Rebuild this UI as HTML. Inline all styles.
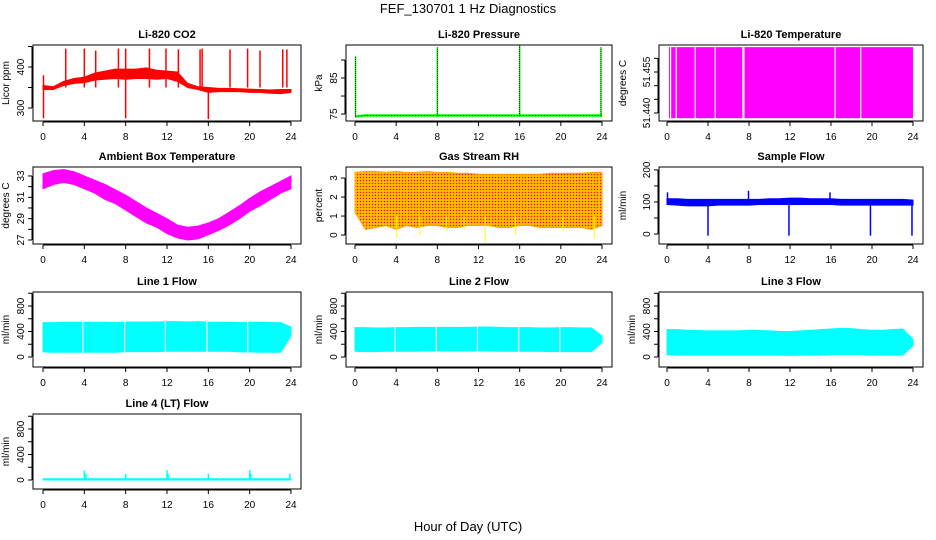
<!DOCTYPE html>
<html><head><meta charset="utf-8">
<style>
html,body{margin:0;padding:0;background:#fff;}
svg{display:block;font-family:"Liberation Sans",sans-serif;}
</style></head>
<body>
<svg id="chart" width="936" height="540" viewBox="0 0 936 540" xmlns="http://www.w3.org/2000/svg">
<text x="468" y="13" text-anchor="middle" font-size="13">FEF_130701  1 Hz Diagnostics</text>
<text x="468" y="531" text-anchor="middle" font-size="13">Hour of Day (UTC)</text>
<defs>
<pattern id="rhpat" width="3" height="3" patternUnits="userSpaceOnUse">
<rect width="3" height="3" fill="#ffa500"/><rect x="0" y="0" width="1" height="1" fill="#ff0000"/><rect x="1.5" y="1.5" width="1" height="1" fill="#ffff00"/>
</pattern>
</defs>
</svg>
<script>
// ---- data (hour of day) ----
const hours = [0,1,2,3,4,5,6,7,8,9,10,11,12,13,14,15,16,17,18,19,20,21,22,23,24];
const co2Hi = [355,352,365,372,375,385,390,395,395,395,398,392,390,388,360,352,350,348,348,347,346,345,344,345,345];
const co2Lo = [345,345,355,360,362,368,370,372,370,372,372,370,372,365,350,345,338,340,340,340,338,338,336,335,338];
const co2SpikeT = [0.05,0.05,2.2,4.0,5.1,7.3,8.0,8.0,10.3,11.9,13.1,15.2,15.4,16.0,18.1,19.8,21.0,23.2,23.6];
const co2SpikeV = [380,275,445,445,440,445,275,445,445,445,443,443,445,273,443,445,440,443,443];
const presBase = [74.3,74.6,74.6,74.6,74.6,74.6,74.6,74.6,74.6,74.6,74.6,74.6,74.6,74.6,74.6,74.6,74.6,74.6,74.6,74.6,74.6,74.6,74.6,74.6,74.6];
const presSpikeT = [0.05,8.0,16.0,23.9];
const presSpikeV = [91,93.5,94,93.5];
const tempLo = 51.4381, tempHi = 51.4641;
const tempGapT = [0.35,0.9,2.75,4.7,7.4,7.5,16.4,18.9];
const ambHi = [33.2,33.5,33.6,33.4,33.0,32.6,32.2,31.7,31.2,30.6,30.0,29.5,29.0,28.4,28.2,28.3,28.6,29.0,29.6,30.2,30.9,31.5,32.0,32.5,33.0];
const ambLo = [31.8,32.2,32.4,32.2,31.8,31.4,30.8,30.4,29.8,29.2,28.6,28.2,27.6,27.2,27.0,27.1,27.5,27.9,28.4,29.0,29.7,30.2,30.8,31.4,31.8];
const rhHi = [3.3,3.35,3.35,3.3,3.35,3.3,3.3,3.35,3.3,3.3,3.25,3.25,3.2,3.2,3.2,3.2,3.2,3.2,3.2,3.25,3.25,3.25,3.25,3.3,3.3];
const rhLo = [1.2,0.3,0.4,0.5,0.3,0.5,0.4,0.5,0.5,0.4,0.4,0.5,0.5,0.5,0.4,0.4,0.5,0.5,0.4,0.4,0.4,0.4,0.4,0.3,0.5];
const rhSpikeT = [4.05,6.3,12.65,15.6,23.25,8.9,10.6,20.2];
const rhSpikeV = [-0.15,0.0,-0.35,0.0,-0.2,0.2,0.25,0.2];
const sfHi = [110,110,108,108,108,108,108,108,108,108,110,110,112,112,110,110,110,108,108,108,108,108,108,108,106];
const sfLo = [92,90,88,88,88,90,90,90,90,92,92,92,92,92,92,92,92,90,90,90,90,90,90,90,90];
const sfSpikeT = [0.05,4.0,7.95,11.9,15.9,19.85,23.9];
const sfSpikeV = [130,-5,135,-5,130,-5,-5];
const l1Hi = [540,540,545,545,545,545,545,540,550,550,550,550,555,555,550,555,545,545,545,540,545,545,540,540,470];
const l1Lo = [80,75,75,75,75,75,75,75,85,85,85,85,90,90,90,90,90,90,90,80,80,75,75,75,330];
const l1GapT = [3.85,7.9,11.85,15.85,19.8];
const l2Hi = [460,460,455,455,460,460,465,465,465,465,465,465,470,470,465,460,460,460,455,455,460,460,455,455,330];
const l2Lo = [90,85,85,90,90,90,90,95,95,95,95,95,95,95,90,90,90,90,90,85,85,85,85,85,230];
const l2GapT = [3.9,7.9,11.9,15.9,19.9];
const l3Hi = [430,430,420,415,410,410,410,410,420,415,410,400,400,410,420,430,440,450,445,430,420,420,430,440,280];
const l3Lo = [40,30,30,30,30,30,30,30,30,30,30,30,25,30,30,30,40,40,40,40,30,30,30,30,180];
const l4Hi = [20,20,20,20,20,20,20,20,20,20,20,20,20,20,20,20,20,20,20,20,20,20,20,20,20];
const l4SpikeT = [4.0,4.15,8.0,12.0,12.1,16.0,20.0,20.1,23.9];
const l4SpikeV = [150,100,100,155,100,100,155,100,100];

// ---- layout ----
const colX = [[33,301,43,291],[346,612,355,602],[659,923,667,913]];
const rowY = [[45,121],[167,244],[292,367],[414,489]];
const xTicks = [0,4,8,12,16,20,24];
const NS = 'http://www.w3.org/2000/svg';
const svg = document.getElementById('chart');

function mk(tag, attrs, parent){
  const el = document.createElementNS(NS, tag);
  for (const k in attrs) el.setAttribute(k, attrs[k]);
  (parent||svg).appendChild(el);
  return el;
}

function panel(cfg){
  const [bl,br,x0,x24] = colX[cfg.col];
  const [bt,bb] = rowY[cfg.row];
  const g = mk('g', {});
  
  
  const xs = h => x0 + (x24-x0)*h/24;
  const ys = v => bb - (bb-bt)*(v-cfg.d0)/(cfg.d1-cfg.d0);
  const plot = mk('g', {}, g);
  
  
  cfg.draw(plot, xs, ys);
  // box
  const box = mk('rect', {x:bl, y:bt, width:br-bl, height:bb-bt, fill:'none', stroke:'#000', 'stroke-width':1}, g);
  
  
  // title
  const t = mk('text', {x:(bl+br)/2, y:bt-7, 'text-anchor':'middle', 'font-size':11, 'font-weight':'bold'}, g);
  
  
  t.textContent = cfg.title;
  // x axis
  const xa = mk('g', {}, g);
  
  
  mk('line', {x1:xs(0), x2:xs(24), y1:bb+1, y2:bb+1, stroke:'#000'}, xa);
  xTicks.forEach(h=>{
    mk('line', {x1:xs(h), x2:xs(h), y1:bb+1, y2:bb+5, stroke:'#000'}, xa);
    const tl = mk('text', {x:xs(h), y:bb+19, 'text-anchor':'middle', 'font-size':10}, xa);
    
    
    tl.textContent = h;
  });
  // y axis
  const ya = mk('g', {}, g);
  
  
  const tk = cfg.yticks;
  mk('line', {x1:bl-1, x2:bl-1, y1:ys(tk[0]), y2:ys(tk[tk.length-1]), stroke:'#000'}, ya);
  tk.forEach((v,i)=>{
    mk('line', {x1:bl-1, x2:bl-5, y1:ys(v), y2:ys(v), stroke:'#000'}, ya);
    const lab = cfg.ylabels[i];
    if (lab !== '') {
      const tl = mk('text', {x:0, y:0, 'text-anchor':'middle', 'font-size':10, transform:`translate(${bl-9},${ys(v)}) rotate(-90)`}, ya);
      
      
      tl.textContent = lab;
    }
  });
  const yt = mk('text', {x:0, y:0, 'text-anchor':'middle', 'font-size':10, transform:`translate(${bl-cfg.yoff},${(bt+bb)/2}) rotate(-90)`}, g);
  
  
  yt.textContent = cfg.ylab;
}

function band(p, xs, ys, hi, lo, fill){
  let pts = hours.map((h,i)=>xs(h)+','+ys(hi[i]));
  for (let i=hours.length-1;i>=0;i--) pts.push(xs(hours[i])+','+ys(lo[i]));
  const el = mk('polygon', {points:pts.join(' '), fill:fill, stroke:fill === 'url(#rhpat)' ? '#ffa500' : fill, 'stroke-width':1}, p);
  
  
  return el;
}
function spikes(p, xs, ys, T, V, base, color, w){
  T.forEach((t,i)=>{
    const b = Array.isArray(base) ? base[Math.round(t)] : base;
    const el = mk('line', {x1:xs(t), x2:xs(t), y1:ys(b), y2:ys(V[i]), stroke:color, 'stroke-width':w||1.5}, p);
    
    
  });
}
function gaps(p, xs, ys, T, v0, v1){
  T.forEach(t=>{
    const el = mk('line', {x1:xs(t), x2:xs(t), y1:ys(v0), y2:ys(v1), stroke:'#fff', 'stroke-width':1.2}, p);
    
    
  });
}

panel({name:'co2', col:0, row:0, title:'Li-820 CO2', ylab:'Licor ppm', yoff:24, d0:268.3, d1:453.7,
  yticks:[300,350,400,450], ylabels:['300','','400',''],
  draw:(p,xs,ys)=>{ band(p,xs,ys,co2Hi,co2Lo,'#ff0000');
    spikes(p,xs,ys,co2SpikeT,co2SpikeV,350,'#ff0000',1.5); }});
panel({name:'pressure', col:1, row:0, title:'Li-820 Pressure', ylab:'kPa', yoff:24, d0:73.06, d1:94.17,
  yticks:[75,80,85,90], ylabels:['75','','85',''],
  draw:(p,xs,ys)=>{
    const pts = hours.map((h,i)=>xs(h)+','+ys(presBase[i])).join(' ');
    const l = mk('polyline',{points:pts, fill:'none', stroke:'#00ff00','stroke-width':2.5}, p);
    
    
    const l2 = mk('polyline',{points:pts, fill:'none', stroke:'#000','stroke-width':0.6,'stroke-dasharray':'1 2'}, p);
    
    
    spikes(p,xs,ys,presSpikeT,presSpikeV,74.4,'#00ff00',1.5);
    presSpikeT.forEach((t,i)=>{
      const d = mk('line',{x1:xs(t),x2:xs(t),y1:ys(74.4),y2:ys(presSpikeV[i]),stroke:'#000','stroke-width':0.8,'stroke-dasharray':'1 1'},p);
      
      
    }); }});
panel({name:'licor-temperature', col:2, row:0, title:'Li-820 Temperature', ylab:'degrees C', yoff:33, d0:51.43707, d1:51.46488,
  yticks:[51.440,51.445,51.450,51.455,51.460], ylabels:['51.440','','','51.455',''],
  draw:(p,xs,ys)=>{
    const r = mk('rect',{x:xs(0.2), y:ys(tempHi), width:xs(24)-xs(0.2), height:ys(tempLo)-ys(tempHi), fill:'#ff00ff'}, p);
    
    
    gaps(p,xs,ys,tempGapT,tempLo,tempHi); }});
panel({name:'ambient-temperature', col:0, row:1, title:'Ambient Box Temperature', ylab:'degrees C', yoff:24, d0:26.625, d1:33.84,
  yticks:[27,28,29,30,31,32,33], ylabels:['27','','29','','31','','33'],
  draw:(p,xs,ys)=>{ band(p,xs,ys,ambHi,ambLo,'#ff00ff'); }});
panel({name:'gas-stream-rh', col:1, row:1, title:'Gas Stream RH', ylab:'percent', yoff:24, d0:-0.47, d1:3.58,
  yticks:[0,1,2,3], ylabels:['0','1','2','3'],
  draw:(p,xs,ys)=>{ band(p,xs,ys,rhHi,rhLo,'url(#rhpat)');
    spikes(p,xs,ys,rhSpikeT,rhSpikeV,1.0,'#ffff00',1); }});
panel({name:'sample-flow', col:2, row:1, title:'Sample Flow', ylab:'ml/min', yoff:33, d0:-31, d1:209,
  yticks:[0,50,100,150,200], ylabels:['0','','100','','200'],
  draw:(p,xs,ys)=>{ band(p,xs,ys,sfHi,sfLo,'#0000ff');
    spikes(p,xs,ys,sfSpikeT,sfSpikeV,100,'#0000ff',1.5); }});
const flowTicks=[0,200,400,600,800,1000], flowLabs=['0','','400','','800',''];
panel({name:'line-1-flow', col:0, row:2, title:'Line 1 Flow', ylab:'ml/min', yoff:24, d0:-157, d1:1020,
  yticks:flowTicks, ylabels:flowLabs,
  draw:(p,xs,ys)=>{ band(p,xs,ys,l1Hi,l1Lo,'#00ffff'); gaps(p,xs,ys,l1GapT,60,570); }});
panel({name:'line-2-flow', col:1, row:2, title:'Line 2 Flow', ylab:'ml/min', yoff:24, d0:-157, d1:1020,
  yticks:flowTicks, ylabels:flowLabs,
  draw:(p,xs,ys)=>{ band(p,xs,ys,l2Hi,l2Lo,'#00ffff'); gaps(p,xs,ys,l2GapT,60,490); }});
panel({name:'line-3-flow', col:2, row:2, title:'Line 3 Flow', ylab:'ml/min', yoff:24, d0:-157, d1:1020,
  yticks:flowTicks, ylabels:flowLabs,
  draw:(p,xs,ys)=>{ band(p,xs,ys,l3Hi,l3Lo,'#00ffff'); }});
panel({name:'line-4-flow', col:0, row:3, title:'Line 4 (LT) Flow', ylab:'ml/min', yoff:24, d0:-141, d1:1035,
  yticks:flowTicks, ylabels:flowLabs,
  draw:(p,xs,ys)=>{ band(p,xs,ys,l4Hi,hours.map(()=>0),'#00ffff');
    spikes(p,xs,ys,l4SpikeT,l4SpikeV,0,'#00ffff',1.5); }});
</script>
</body></html>
